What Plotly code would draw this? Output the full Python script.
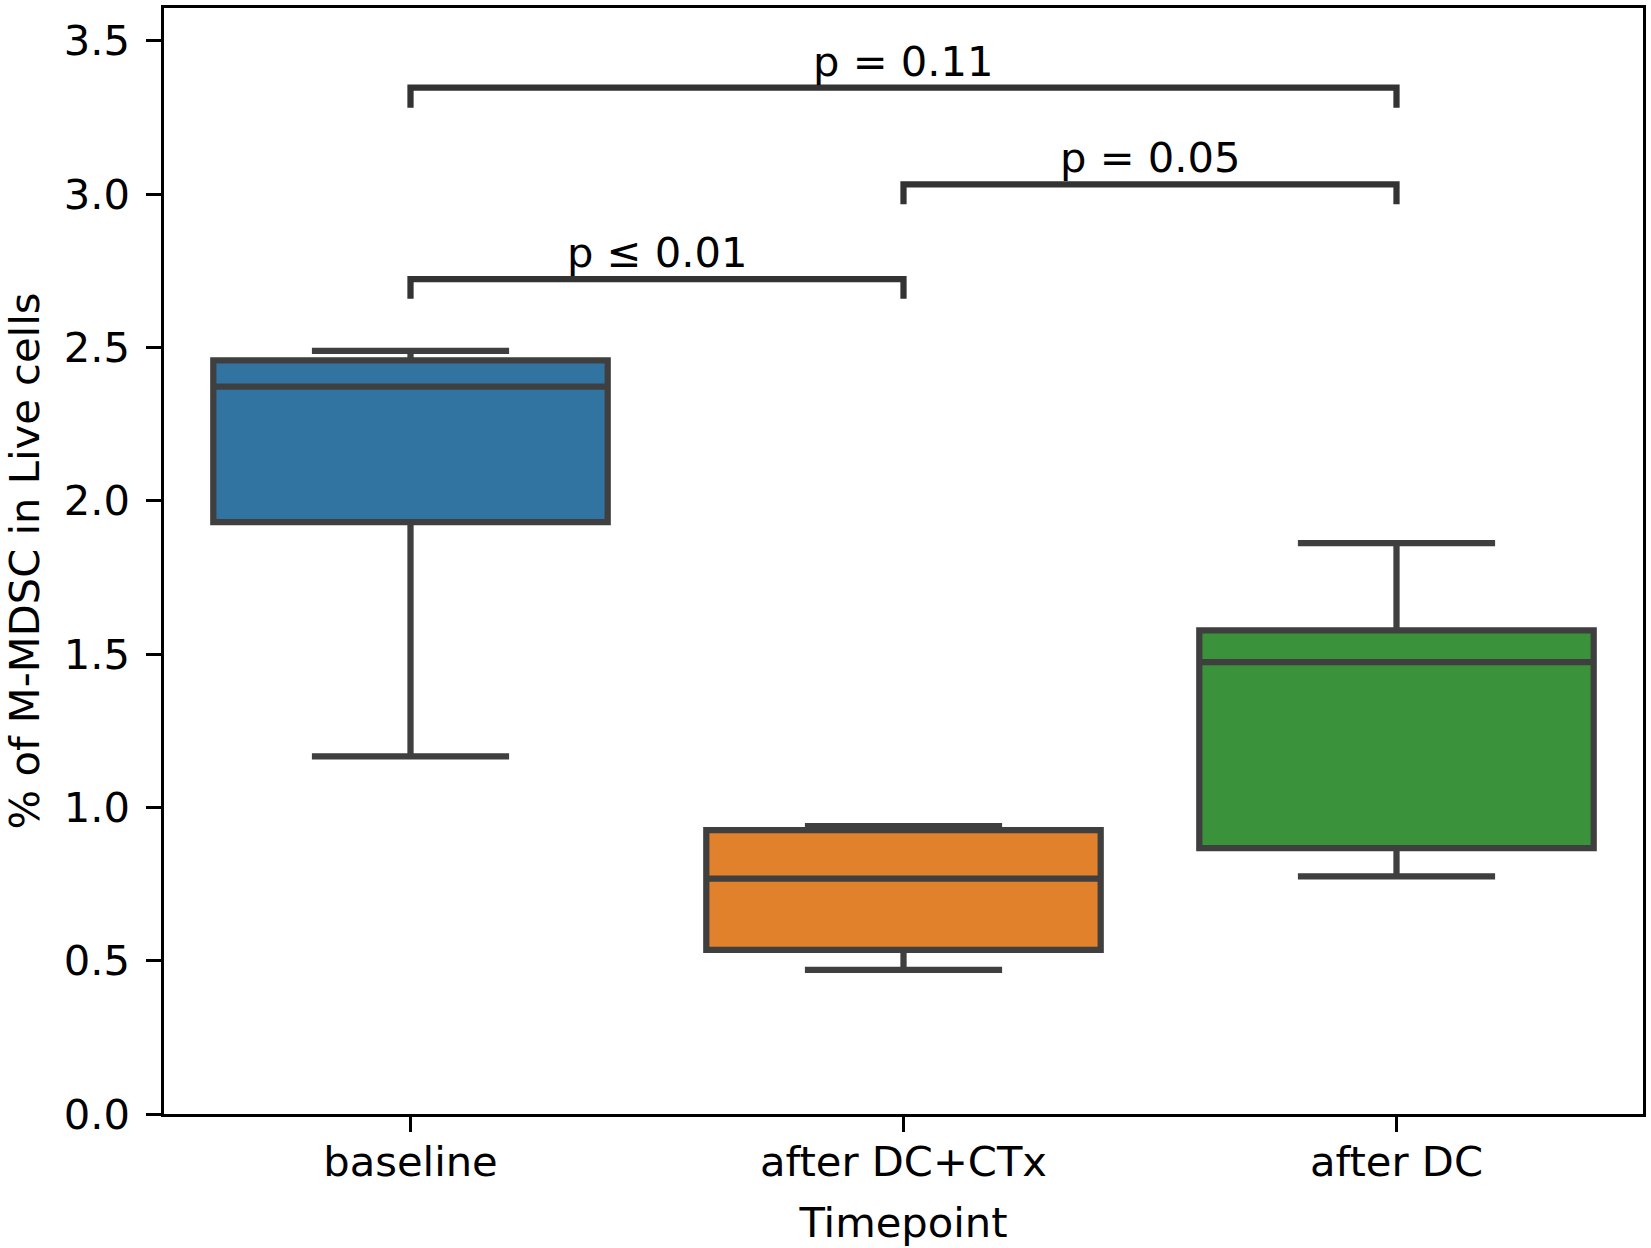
import plotly.graph_objects as go

# Box statistics (% of M-MDSC in live cells)
timepoints = ["baseline", "after DC+CTx", "after DC"]
lower_whisker = [1.166, 0.470, 0.775]
q1_vals = [1.930, 0.535, 0.867]
median_vals = [2.372, 0.768, 1.474]
q3_vals = [2.458, 0.926, 1.577]
upper_whisker = [2.489, 0.939, 1.862]
box_colors = ["#3274a1", "#e1812c", "#3a923a"]

# Significance brackets: (left group, right group, bar height, tip height, label)
bracket_left = ["baseline", "after DC+CTx", "baseline"]
bracket_right = ["after DC+CTx", "after DC", "after DC"]
bracket_height = [2.723, 3.032, 3.347]
bracket_tip = [2.659, 2.967, 3.282]
bracket_label = ["p \u2264 0.01", "p = 0.05", "p = 0.11"]

PT = 300 / 72  # matplotlib points -> pixels at 300 dpi
FONT = dict(family="DejaVu Sans", size=10 * PT, color="black")
EDGE = "#3f3f3f"

fig = go.Figure()

for i, tp in enumerate(timepoints):
    fig.add_trace(
        go.Box(
            x=[tp],
            q1=[q1_vals[i]],
            median=[median_vals[i]],
            q3=[q3_vals[i]],
            lowerfence=[lower_whisker[i]],
            upperfence=[upper_whisker[i]],
            width=0.8,
            whiskerwidth=0.5,
            fillcolor=box_colors[i],
            line=dict(color=EDGE, width=1.5 * PT),
            boxpoints=False,
            showlegend=False,
        )
    )

# Brackets with p-values
cat_index = {c: i for i, c in enumerate(timepoints)}
for left, right, h, tip, label in zip(
    bracket_left, bracket_right, bracket_height, bracket_tip, bracket_label
):
    fig.add_trace(
        go.Scatter(
            x=[left, left, right, right],
            y=[tip, h, h, tip],
            mode="lines",
            line=dict(color="#333333", width=1.5 * PT),
            showlegend=False,
            hoverinfo="skip",
        )
    )
    fig.add_annotation(
        x=(cat_index[left] + cat_index[right]) / 2,
        y=h,
        text=label,
        showarrow=False,
        yanchor="bottom",
        yshift=0,
        font=FONT,
    )

axis_style = dict(
    showgrid=False,
    zeroline=False,
    showline=True,
    mirror=True,
    linecolor="black",
    linewidth=0.8 * PT,
    ticks="outside",
    ticklen=3.5 * PT,
    tickwidth=0.8 * PT,
    tickcolor="black",
)

fig.update_layout(
    width=1651,
    height=1248,
    margin=dict(l=158, r=8, t=5, b=134),
    paper_bgcolor="white",
    plot_bgcolor="white",
    font=FONT,
    boxmode="overlay",
    showlegend=False,
    xaxis=dict(
        type="category",
        categoryorder="array",
        categoryarray=timepoints,
        range=[-0.5, 2.5],
        ticklabelstandoff=-6,
        title=dict(text="Timepoint", standoff=24, font=FONT),
        **axis_style,
    ),
    yaxis=dict(
        range=[0, 3.607],
        tick0=0,
        dtick=0.5,
        tickformat=".1f",
        ticklabelstandoff=8,
        title=dict(text="% of M-MDSC in Live cells", standoff=30, font=FONT),
        **axis_style,
    ),
)

# drop the default page margin so the figure fills the window from the corner
fig.write_html(
    "out.html",
    config={"displayModeBar": False},
    post_script="document.body.style.margin='0';",
)
